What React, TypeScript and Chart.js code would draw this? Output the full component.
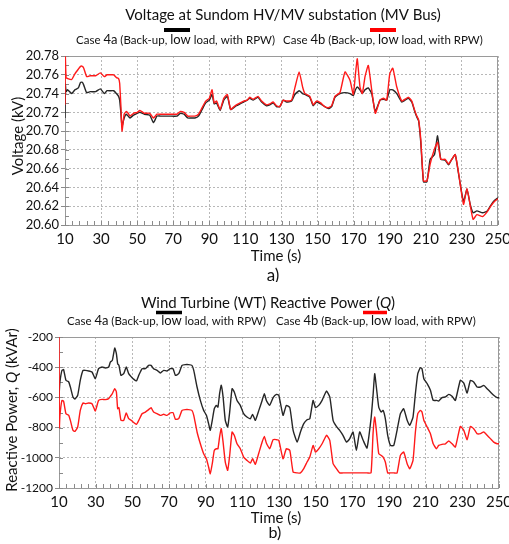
import React, { useEffect, useRef } from "react";
import { Chart, registerables } from "chart.js";

Chart.register(...registerables);

const FONT = "Lato, 'Open Sans', 'DejaVu Sans', sans-serif";

// ---------------- a) Voltage at Sundom HV/MV substation ----------------
const voltTime = [
  10, 10.2, 10.6, 11.5, 13.7, 15.5, 17.4, 18.6, 19.6, 20.4,
  22, 24, 27, 29.6, 31.8, 33.3, 35, 37, 38.5, 39.7,
  40.3, 41, 41.6, 42.8, 44, 45, 46, 48, 50, 51.5,
  54, 57, 59, 61, 63, 65, 68, 72, 74, 76,
  78, 80, 82, 84, 86, 88, 90, 91.5, 92.7, 94,
  96, 98, 100, 101.8, 103.6, 105, 107, 109, 111, 112.4,
  114.3, 117, 119, 121.7, 123.5, 125.4, 127.2, 129, 131, 132.8,
  135.6, 137.4, 139.8, 141.7, 143, 145.7, 147.6, 149.4, 151.7, 154,
  156, 157.8, 159.6, 162.4, 165.2, 168, 169.8, 171, 172, 173.5,
  174.8, 176.3, 178.1, 180, 182, 184.6, 186.5, 188.3, 190, 191.7,
  193.9, 196.7, 198.5, 200.4, 202.2, 204, 205, 206, 207.2, 208.7,
  210.6, 212.4, 214.8, 216.5, 218.3, 220.7, 222.6, 224.4, 226.3, 228.1,
  230.9, 232.8, 234.6, 236.2, 238.3, 241.5, 244, 246, 248, 250,
];
const voltCase4a = [
  20.714, 20.75, 20.742, 20.744, 20.74, 20.744, 20.746, 20.752, 20.752, 20.749,
  20.741, 20.742, 20.742, 20.745, 20.74, 20.743, 20.743, 20.743, 20.74, 20.737,
  20.733, 20.719, 20.705, 20.714, 20.718, 20.716, 20.714, 20.717, 20.719, 20.72,
  20.718, 20.717, 20.709, 20.716, 20.716, 20.716, 20.716, 20.716, 20.719, 20.718,
  20.714, 20.714, 20.714, 20.716, 20.723, 20.73, 20.733, 20.739, 20.729, 20.73,
  20.722, 20.733, 20.737, 20.723, 20.725, 20.727, 20.729, 20.731, 20.733, 20.735,
  20.733, 20.736, 20.731, 20.727, 20.728, 20.73, 20.726, 20.726, 20.733, 20.731,
  20.732, 20.739, 20.743, 20.74, 20.739, 20.736, 20.727, 20.731, 20.729, 20.726,
  20.724, 20.726, 20.736, 20.74, 20.741, 20.74, 20.738, 20.744, 20.747, 20.744,
  20.74, 20.744, 20.746, 20.74, 20.721, 20.733, 20.734, 20.733, 20.744, 20.744,
  20.74, 20.731, 20.733, 20.735, 20.731, 20.72, 20.715, 20.711, 20.688, 20.646,
  20.646, 20.67, 20.675, 20.695, 20.67, 20.669, 20.664, 20.67, 20.675, 20.655,
  20.625, 20.638, 20.622, 20.613, 20.615, 20.613, 20.615, 20.621, 20.626, 20.629,
];
const voltCase4b = [
  20.728, 20.779, 20.757, 20.756, 20.755, 20.761, 20.766, 20.769, 20.769, 20.767,
  20.758, 20.759, 20.759, 20.762, 20.758, 20.76, 20.76, 20.76, 20.757, 20.756,
  20.751, 20.726, 20.7, 20.718, 20.721, 20.719, 20.716, 20.719, 20.72, 20.722,
  20.719, 20.719, 20.714, 20.718, 20.718, 20.718, 20.718, 20.718, 20.721, 20.72,
  20.716, 20.716, 20.716, 20.718, 20.725, 20.732, 20.735, 20.744, 20.73, 20.732,
  20.723, 20.735, 20.739, 20.723, 20.726, 20.728, 20.73, 20.732, 20.733, 20.736,
  20.734, 20.737, 20.732, 20.728, 20.729, 20.731, 20.727, 20.726, 20.733, 20.732,
  20.733, 20.746, 20.763, 20.747, 20.74, 20.737, 20.728, 20.732, 20.73, 20.726,
  20.725, 20.727, 20.737, 20.741, 20.763, 20.754, 20.739, 20.761, 20.777, 20.747,
  20.74, 20.758, 20.77, 20.744, 20.719, 20.733, 20.735, 20.733, 20.761, 20.767,
  20.747, 20.732, 20.734, 20.736, 20.732, 20.721, 20.716, 20.712, 20.691, 20.647,
  20.647, 20.665, 20.681, 20.688, 20.67, 20.67, 20.665, 20.67, 20.675, 20.656,
  20.622, 20.639, 20.621, 20.606, 20.611, 20.609, 20.614, 20.62, 20.625, 20.628,
];
const voltTicks = [20.6, 20.62, 20.64, 20.66, 20.68, 20.7, 20.72, 20.74, 20.76, 20.78];

// ---------------- b) Wind Turbine (WT) Reactive Power ----------------
const qTime = [
  10, 10.2, 10.5, 11.6, 12.5, 13.8, 15.3, 16.2, 17.6, 18.7,
  20.2, 21.6, 23.1, 24.4, 26.2, 28, 29.8, 31.6, 33.5, 35.3,
  37.1, 38, 39.1, 40.4, 41.3, 42, 42.7, 43.8, 45.3, 46.7,
  48, 49.5, 50.4, 52.2, 53.5, 55.3, 57.1, 58.9, 60.2, 61.6,
  63.5, 65.3, 67.1, 68.9, 70.7, 72.2, 73.5, 75.3, 77.1, 78.9,
  80.7, 82.5, 83.5, 85.3, 87.1, 88.9, 90.4, 91.6, 92.5, 93.6,
  94.7, 95.8, 96.7, 97.6, 98.5, 99.5, 100.7, 102, 103.1, 104.4,
  105.6, 107.1, 108.9, 110.7, 112.5, 114.4, 115.6, 117.1, 119, 120.8,
  122, 123.1, 124.9, 126.8, 128.6, 129.9, 132.2, 134, 135.9, 137.7,
  139.9, 141.7, 143.5, 145.3, 146.8, 148.6, 149.9, 151.7, 153.5, 155.9,
  157.7, 159.5, 161.3, 163.1, 164.9, 166.8, 168.6, 170.4, 172.2, 174,
  175.9, 178, 180.2, 181.3, 182.2, 183.1, 184.4, 185.7, 186.8, 188,
  189.3, 190.8, 192.6, 194.4, 196.2, 198, 199.9, 201.3, 203.1, 204.4,
  205.7, 207.1, 208, 209, 210.8, 212.6, 214.1, 215.9, 217.1, 218.9,
  220.8, 222.6, 224.4, 226.2, 228.9, 230.8, 232.6, 234.4, 236.2, 238,
  239.9, 241.7, 243.5, 245.3, 247.1, 249, 250,
];
const qCase4a = [
  -608, -553, -498, -421, -416, -487, -498, -531, -597, -611,
  -586, -487, -421, -421, -425, -432, -476, -410, -399, -405,
  -399, -366, -355, -273, -310, -377, -388, -454, -443, -399,
  -443, -465, -476, -491, -454, -410, -410, -388, -388, -410,
  -421, -438, -421, -425, -410, -410, -454, -443, -388, -383,
  -383, -388, -421, -531, -620, -686, -719, -774, -818, -752,
  -675, -653, -664, -575, -520, -597, -752, -796, -697, -542,
  -564, -620, -653, -708, -730, -741, -712, -752, -686, -620,
  -575, -620, -653, -602, -580, -586, -719, -653, -668, -818,
  -896, -829, -774, -748, -741, -620, -668, -653, -620, -558,
  -597, -752, -792, -818, -851, -896, -873, -829, -951, -829,
  -884, -935, -741, -586, -443, -531, -664, -697, -686, -741,
  -851, -918, -918, -818, -708, -675, -752, -785, -730, -575,
  -443, -403, -410, -476, -509, -553, -620, -620, -624, -602,
  -597, -580, -593, -620, -487, -505, -571, -487, -498, -531,
  -531, -520, -542, -564, -586, -602, -602,
];
const qCase4b = [
  -200, -800, -720, -620, -626, -708, -719, -752, -818, -825,
  -796, -686, -637, -642, -637, -642, -690, -620, -613, -615,
  -608, -593, -575, -542, -564, -675, -668, -752, -752, -703,
  -741, -752, -763, -779, -752, -708, -697, -681, -668, -697,
  -708, -719, -712, -719, -703, -701, -745, -741, -686, -681,
  -681, -686, -719, -829, -907, -973, -1006, -1061, -1105, -1039,
  -951, -940, -940, -862, -807, -896, -1028, -1083, -984, -829,
  -851, -907, -940, -995, -1017, -1035, -1006, -1043, -968, -895,
  -858, -902, -940, -880, -880, -884, -1006, -940, -951, -1094,
  -1100, -1100, -1072, -1028, -995, -918, -962, -940, -907, -851,
  -884, -1039, -1072, -1100, -1100, -1100, -1100, -1100, -1100, -1100,
  -1100, -1100, -1100, -840, -730, -818, -973, -984, -995, -1028,
  -1100, -1100, -1100, -1100, -984, -962, -1039, -1072, -1017, -829,
  -708, -686, -697, -752, -796, -840, -907, -940, -918, -911,
  -907, -889, -907, -929, -792, -818, -880, -792, -807, -840,
  -840, -829, -851, -873, -896, -907, -907,
];
const qTicks = [-1200, -1000, -800, -600, -400, -200];

const timeTicks = [10, 30, 50, 70, 90, 110, 130, 150, 170, 190, 210, 230, 250];

// ---------------- text ----------------
type Seg = { text: string; size: number; italic?: boolean };
const legendCase4a: Seg[] = [
  { text: "Case ", size: 11.5 },
  { text: "4a", size: 13 },
  { text: " (Back-up, ", size: 11.5 },
  { text: "low", size: 13 },
  { text: " load, with RPW)", size: 11.5 },
];
const legendCase4b: Seg[] = [
  { text: "Case ", size: 11.5 },
  { text: "4b", size: 13 },
  { text: " (Back-up, ", size: 11.5 },
  { text: "low", size: 13 },
  { text: " load, with RPW)", size: 11.5 },
];

const fontOf = (s: Seg) => `${s.italic ? "italic " : ""}${s.size}px ${FONT}`;

function drawRich(
  ctx: CanvasRenderingContext2D,
  segs: Seg[],
  x: number,
  y: number,
  align: "left" | "center",
  rotate = false
) {
  ctx.save();
  ctx.translate(x, y);
  if (rotate) ctx.rotate(-Math.PI / 2);
  let w = 0;
  for (const s of segs) {
    ctx.font = fontOf(s);
    w += ctx.measureText(s.text).width;
  }
  let cx = align === "center" ? -w / 2 : 0;
  ctx.fillStyle = "#111";
  ctx.textAlign = "left";
  ctx.textBaseline = "alphabetic";
  for (const s of segs) {
    ctx.font = fontOf(s);
    ctx.fillText(s.text, cx, 0);
    cx += ctx.measureText(s.text).width;
  }
  ctx.restore();
}

interface Decor {
  title: Seg[];
  titleX: number;
  titleY: number;
  swatches: { x1: number; x2: number; y: number; color: string; w: number }[];
  legends: { segs: Seg[]; x: number; y: number }[];
  yTitle: Seg[];
  yTitleX: number;
  yTitleY: number;
  xTitle: Seg[];
  xTitleX: number;
  xTitleY: number;
  tag: Seg[];
  tagX: number;
  tagY: number;
  yMinorStep: number;
}

function decorPlugin(d: Decor) {
  return {
    id: "decor",
    beforeDatasetsDraw(chart: any) {
      const ctx: CanvasRenderingContext2D = chart.ctx;
      const { left, right, top, bottom } = chart.chartArea;
      const xs = chart.scales.x;
      const ys = chart.scales.y;
      ctx.save();
      ctx.strokeStyle = "#9a9a9a";
      ctx.lineWidth = 1;
      ctx.strokeRect(Math.round(left) + 0.5, Math.round(top) + 0.5, Math.round(right - left) - 1, Math.round(bottom - top));
      ctx.strokeStyle = "#8a8a8a";
      ctx.beginPath();
      for (let t = xs.min; t <= xs.max + 1e-6; t += 4) {
        const px = Math.round(xs.getPixelForValue(t)) + 0.5;
        ctx.moveTo(px, bottom);
        ctx.lineTo(px, bottom - 4);
      }
      for (let v = ys.min; v <= ys.max + 1e-9; v += d.yMinorStep) {
        const py = Math.round(ys.getPixelForValue(v)) + 0.5;
        ctx.moveTo(left, py);
        ctx.lineTo(left + 4, py);
      }
      ctx.stroke();
      ctx.restore();
    },
    afterDraw(chart: any) {
      const ctx: CanvasRenderingContext2D = chart.ctx;
      drawRich(ctx, d.title, d.titleX, d.titleY, "center");
      for (const s of d.swatches) {
        ctx.save();
        ctx.fillStyle = s.color;
        ctx.fillRect(s.x1, s.y - s.w / 2, s.x2 - s.x1, s.w);
        ctx.restore();
      }
      for (const l of d.legends) drawRich(ctx, l.segs, l.x, l.y, "left");
      drawRich(ctx, d.yTitle, d.yTitleX, d.yTitleY, "center", true);
      drawRich(ctx, d.xTitle, d.xTitleX, d.xTitleY, "center");
      drawRich(ctx, d.tag, d.tagX, d.tagY, "center");
    },
  };
}

interface Spec {
  time: number[];
  a: number[];
  b: number[];
  yMin: number;
  yMax: number;
  yTicks: number[];
  yDecimals: number;
  yFont: number;
  padTop: number;
  padRight: number;
  yWidth: number;
  xHeight: number;
  xPad: number;
  decor: Decor;
}

function buildChart(canvas: HTMLCanvasElement, s: Spec) {
  const pts = (vals: number[]) => s.time.map((t, i) => ({ x: t, y: vals[i] }));
  return new Chart(canvas, {
    type: "line",
    data: {
      datasets: [
        {
          label: "Case 4b",
          data: pts(s.b),
          borderColor: "#ff1a1a",
          borderWidth: 1.4,
          pointRadius: 0,
          tension: 0.15,
        },
        {
          label: "Case 4a",
          data: pts(s.a),
          borderColor: "#262626",
          borderWidth: 1.4,
          pointRadius: 0,
          tension: 0.15,
        },
      ],
    },
    options: {
      responsive: false,
      animation: false,
      events: [],
      layout: { padding: { top: s.padTop, right: s.padRight, left: 0, bottom: 0 } },
      plugins: { legend: { display: false }, tooltip: { enabled: false }, title: { display: false } },
      scales: {
        x: {
          type: "linear",
          min: 10,
          max: 250,
          afterBuildTicks: (sc: any) => {
            sc.ticks = timeTicks.map((v) => ({ value: v }));
          },
          afterFit: (sc: any) => {
            sc.height = s.xHeight;
            sc.paddingLeft = 0;
            sc.paddingRight = 0;
          },
          grid: { color: "#b8b8b8", drawTicks: false, lineWidth: 1 },
          border: { display: false, dash: [2, 2] },
          ticks: {
            autoSkip: false,
            maxRotation: 0,
            padding: s.xPad,
            color: "#111",
            font: { family: FONT, size: 15 },
            callback: (v: any) => String(v),
          },
        },
        y: {
          type: "linear",
          min: s.yMin,
          max: s.yMax,
          afterBuildTicks: (sc: any) => {
            sc.ticks = s.yTicks.map((v) => ({ value: v }));
          },
          afterFit: (sc: any) => {
            sc.width = s.yWidth;
            sc.paddingTop = 0;
            sc.paddingBottom = 0;
          },
          grid: { color: "#b8b8b8", drawTicks: true, tickLength: 4, tickColor: "#8a8a8a", lineWidth: 1 },
          border: { display: false, dash: [2, 2] },
          ticks: {
            autoSkip: false,
            padding: 2,
            color: "#111",
            font: { family: FONT, size: s.yFont },
            callback: (v: any) => Number(v).toFixed(s.yDecimals),
          },
        },
      },
    },
    plugins: [decorPlugin(s.decor)],
  } as any);
}

const specA: Spec = {
  time: voltTime,
  a: voltCase4a,
  b: voltCase4b,
  yMin: 20.6,
  yMax: 20.78,
  yTicks: voltTicks,
  yDecimals: 2,
  yFont: 13,
  padTop: 56,
  padRight: 11,
  yWidth: 65,
  xHeight: 57,
  xPad: 5,
  decor: {
    title: [{ text: "Voltage at Sundom HV/MV substation (MV Bus)", size: 15 }],
    titleX: 283,
    titleY: 19.5,
    swatches: [
      { x1: 164, x2: 190, y: 30, color: "#000", w: 4 },
      { x1: 370, x2: 396, y: 30, color: "#ff0000", w: 4 },
    ],
    legends: [
      { segs: legendCase4a, x: 76, y: 44 },
      { segs: legendCase4b, x: 283, y: 44 },
    ],
    yTitle: [{ text: "Voltage (kV)", size: 15 }],
    yTitleX: 23,
    yTitleY: 136,
    xTitle: [{ text: "Time (s)", size: 15 }],
    xTitleX: 276,
    xTitleY: 261,
    tag: [{ text: "a)", size: 17 }],
    tagX: 273,
    tagY: 281,
    yMinorStep: 0.01,
  },
};

const specB: Spec = {
  time: qTime,
  a: qCase4a,
  b: qCase4b,
  yMin: -1200,
  yMax: -200,
  yTicks: qTicks,
  yDecimals: 0,
  yFont: 12,
  padTop: 55,
  padRight: 10,
  yWidth: 59,
  xHeight: 56,
  xPad: 5,
  decor: {
    title: [
      { text: "Wind Turbine (WT) Reactive Power (", size: 15 },
      { text: "Q", size: 15, italic: true },
      { text: ")", size: 15 },
    ],
    titleX: 268,
    titleY: 26,
    swatches: [
      { x1: 156, x2: 182, y: 30.5, color: "#000", w: 3.5 },
      { x1: 363, x2: 387, y: 30.5, color: "#ff0000", w: 3.5 },
    ],
    legends: [
      { segs: legendCase4a, x: 67, y: 42.5 },
      { segs: legendCase4b, x: 276, y: 42.5 },
    ],
    yTitle: [
      { text: "Reactive Power, ", size: 15 },
      { text: "Q", size: 15, italic: true },
      { text: " (kVAr)", size: 15 },
    ],
    yTitleX: 17,
    yTitleY: 128,
    xTitle: [{ text: "Time (s)", size: 15 }],
    xTitleX: 276,
    xTitleY: 241,
    tag: [{ text: "b)", size: 16 }],
    tagX: 275,
    tagY: 256,
    yMinorStep: 100,
  },
};

export default function App() {
  const refA = useRef<HTMLCanvasElement>(null);
  const refB = useRef<HTMLCanvasElement>(null);

  useEffect(() => {
    if (!refA.current || !refB.current) return;
    const ca = buildChart(refA.current, specA);
    const cb = buildChart(refB.current, specB);
    return () => {
      ca.destroy();
      cb.destroy();
    };
  }, []);

  return (
    <div style={{ position: "absolute", left: 0, top: 0, width: 509, height: 544, background: "#fff" }}>
      <canvas ref={refA} width={509} height={282} style={{ position: "absolute", left: 0, top: 0, display: "block" }} />
      <canvas ref={refB} width={509} height={262} style={{ position: "absolute", left: 0, top: 282, display: "block" }} />
    </div>
  );
}
